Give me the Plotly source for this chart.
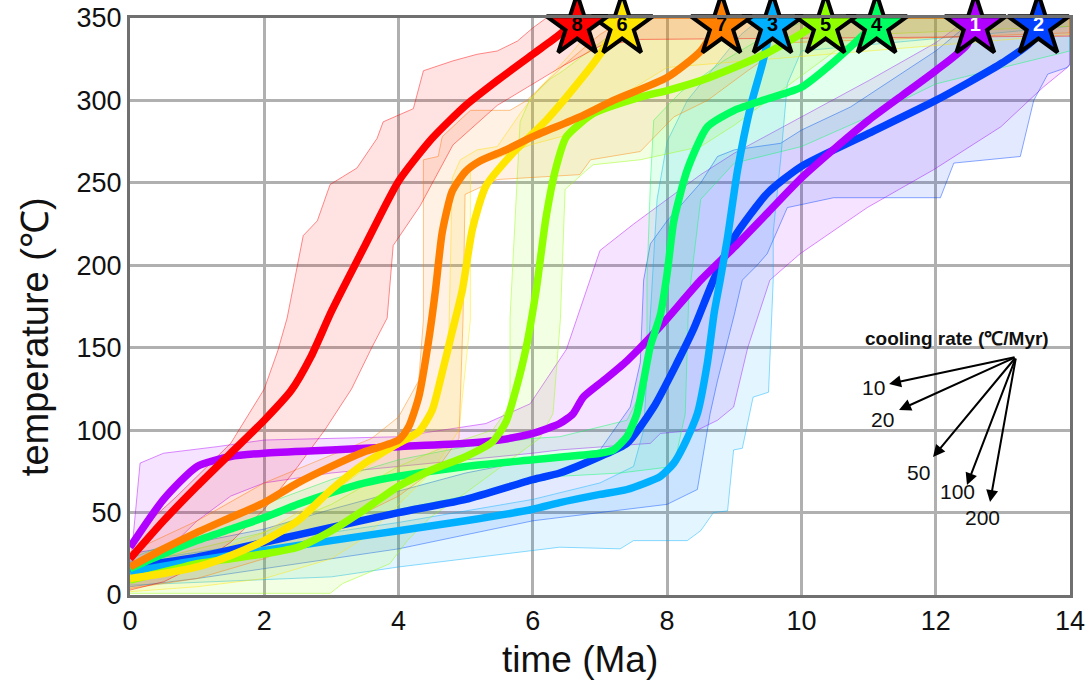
import plotly.graph_objects as go

# ---------------- data ----------------
series_ids = ["1", "2", "3", "4", "5", "6", "7", "8"]
colors = {"1": (176, 0, 255), "2": (0, 64, 255), "3": (0, 176, 255), "4": (0, 255, 96),
          "5": (144, 255, 0), "6": (255, 230, 0), "7": (255, 128, 0), "8": (255, 0, 0)}

# main (median) paths
x1 = [0, 0.5, 1, 1.5, 2, 3, 4, 5, 5.5, 6, 6.4, 6.6, 6.75, 7.05, 7.4, 7.9, 8.5, 9, 9.5, 10, 10.5, 11, 11.5, 12, 12.47, 12.59]
y1 = [29, 58, 78, 84, 86, 88, 90, 92, 94, 98, 104, 110, 120, 130, 142, 163, 191, 211, 232, 253, 271, 288, 303, 318, 334, 350]
x2 = [0, 1, 2, 3, 4, 5, 6, 6.4, 7, 7.4, 7.8, 8.15, 8.39, 8.69, 9, 9.5, 10, 11, 12, 13, 13.46, 13.53]
y2 = [17, 23, 32, 41, 50, 58, 70, 74, 84, 92, 114, 141, 161, 191, 217, 244, 260, 280, 300, 323, 337, 350]
x3 = [0, 1, 2, 3, 4, 5, 6, 6.4, 7, 7.4, 7.9, 8.1, 8.24, 8.45, 8.6, 8.7, 8.79, 8.9, 9.05, 9.24, 9.43, 9.57]
y3 = [14, 21, 27, 33, 39, 45, 52, 56, 61, 64, 72, 80, 90, 110, 141, 171, 191, 217, 258, 296, 324, 350]
x4 = [0, 0.5, 1, 1.5, 2, 2.5, 3, 3.5, 4, 5, 6, 6.5, 7, 7.2, 7.4, 7.55, 7.65, 7.75, 7.9, 8.0, 8.1, 8.3, 8.6, 9, 9.5, 10, 10.5, 11, 11.12]
y4 = [16, 25, 33, 40, 47, 55, 62, 68, 72, 78, 82, 84, 86, 88, 96, 110, 130, 151, 170, 195, 227, 258, 284, 294, 301, 308, 324, 343, 350]
x5 = [0, 0.5, 1, 1.5, 2, 2.5, 3, 3.5, 4, 4.5, 5, 5.4, 5.6, 5.75, 5.9, 6.05, 6.2, 6.35, 6.5, 6.9, 7.6, 8, 8.5, 9, 9.5, 10.1, 10.36]
y5 = [9, 14, 19, 22, 25, 29, 39, 52, 66, 76, 84, 93, 105, 125, 150, 185, 230, 260, 278, 292, 302, 306, 312, 320, 329, 343, 350]
x6 = [0, 0.5, 1, 1.5, 2, 2.5, 3, 3.5, 4, 4.3, 4.5, 4.65, 4.8, 4.95, 5.1, 5.3, 5.7, 6.2, 6.7, 7.0, 7.33]
y6 = [10, 13, 17, 24, 33, 45, 64, 80, 92, 99, 112, 135, 160, 185, 222, 248, 268, 288, 312, 328, 350]
x7 = [0, 0.5, 1, 1.5, 2, 2.5, 3, 3.5, 4, 4.15, 4.3, 4.45, 4.55, 4.65, 4.8, 5.0, 5.2, 5.6, 6.0, 6.7, 7.2, 8.0, 8.5, 8.81]
y7 = [17, 28, 38, 47, 56, 68, 78, 87, 94, 102, 120, 155, 185, 220, 245, 257, 263, 270, 278, 290, 300, 314, 330, 350]
x8 = [0, 0.5, 1, 1.5, 2, 2.4, 2.7, 3.0, 3.5, 4.0, 4.5, 5.0, 5.5, 6.0, 6.4, 6.66]
y8 = [22, 45, 66, 86, 106, 124, 145, 172, 212, 251, 277, 297, 313, 328, 340, 350]

# uncertainty envelopes: upper (early/hot) edge and lower (late/cool) edge
b1_ux = [0, 0.15, 0.5, 1.3, 2, 4, 5.3, 5.96, 6.5, 6.75, 7.0, 7.5, 8, 8.5, 9, 10, 11, 12, 12.5]
b1_uy = [15, 80, 86, 90, 94, 96, 104, 116, 149, 179, 209, 225, 240, 255, 268, 290, 312, 335, 350]
b1_lx = [0, 0.5, 1, 1.5, 2, 3, 4, 5, 6, 6.4, 7.75, 7.9, 8.45, 8.75, 8.99, 9.2, 9.53, 9.98, 10.98, 11.97, 12.97, 13.6, 13.96, 14]
b1_ly = [8, 25, 45, 60, 68, 74, 78, 82, 86, 88, 92, 98, 100, 106, 114, 150, 191, 207, 235, 258, 284, 308, 320, 322]

b2_ux = [0, 1, 2, 3, 4, 5, 6, 7, 7.45, 7.6, 7.65, 7.75, 8.0, 8.5, 8.75, 9.0, 9.69, 10.0, 10.73, 11.22, 12.0, 12.6]
b2_uy = [25, 32, 40, 52, 63, 74, 82, 88, 114, 141, 191, 213, 227, 250, 266, 270, 274, 282, 296, 309, 330, 350]
b2_lx = [0, 1, 2, 4, 6, 7, 8, 8.45, 8.64, 8.75, 9.0, 9.12, 9.34, 9.49, 9.79, 10.48, 12.07, 12.27, 13.26, 13.46, 13.67, 13.96, 14]
b2_ly = [5, 10, 16, 28, 45, 50, 55, 64, 110, 130, 170, 191, 200, 207, 235, 241, 241, 262, 266, 300, 316, 320, 322]

b3_ux = [0, 2, 4, 6, 7, 7.5, 7.65, 7.75, 7.85, 8.0, 8.3, 8.7, 9.1, 9.4]
b3_uy = [20, 32, 44, 58, 68, 78, 100, 170, 240, 275, 300, 320, 340, 350]
b3_lx = [0, 3, 4, 6, 6.4, 7.3, 7.5, 8.3, 8.5, 8.69, 8.9, 8.99, 9.12, 9.28, 9.51, 9.58, 9.58, 9.69, 9.79, 10.0, 14]
b3_ly = [6, 11, 17, 27, 29, 28, 33, 33, 39, 50, 51, 88, 89, 120, 123, 191, 220, 264, 310, 330, 345]

b4_ux = [0, 1, 2, 3, 4, 5, 6, 6.4, 7.4, 7.7, 7.7, 7.75, 7.8, 8.2, 8.84, 9.5, 10.2]
b4_uy = [22, 38, 55, 70, 82, 90, 95, 96, 106, 130, 191, 250, 288, 305, 324, 340, 350]
b4_lx = [0, 1, 2, 3, 4, 5, 6, 6.4, 7.3, 8.1, 8.27, 8.32, 8.5, 9.0, 10, 11, 12, 14]
b4_ly = [8, 18, 30, 42, 52, 60, 68, 72, 74, 78, 110, 179, 240, 262, 272, 290, 310, 330]

b5_ux = [0, 1, 2, 3, 4, 4.8, 5.4, 5.66, 5.66, 5.81, 5.96, 6.26, 6.45, 7.0, 7.5]
b5_uy = [18, 28, 38, 55, 78, 92, 100, 115, 168, 287, 301, 313, 318, 335, 350]
b5_lx = [0, 2.98, 3.17, 3.87, 4.13, 4.47, 5.0, 5.6, 6.1, 6.3, 6.41, 6.48, 6.81, 6.9, 7.6, 8.5, 9.0, 9.5, 10, 10.5, 11, 14]
b5_ly = [1, 1, 7, 19, 33, 47, 62, 80, 95, 110, 167, 246, 258, 261, 264, 272, 285, 300, 315, 330, 340, 345]

b6_ux = [0, 1, 2, 3, 3.8, 4.3, 4.6, 4.75, 4.8, 4.92, 5.17, 5.47, 5.81, 6.11, 6.6, 7.0]
b6_uy = [15, 22, 38, 62, 85, 100, 120, 160, 253, 264, 270, 272, 292, 308, 330, 350]
b6_lx = [0, 1, 2, 3, 3.5, 4.0, 4.5, 4.9, 5.07, 5.07, 5.47, 5.96, 6.6, 7.2, 8, 14]
b6_ly = [2, 5, 10, 22, 35, 55, 75, 100, 167, 261, 265, 273, 280, 300, 320, 340]

b7_ux = [0, 1, 2, 3, 3.6, 4.0, 4.3, 4.37, 4.37, 4.59, 4.65, 5.07, 5.66, 5.91, 6.45, 7.0, 7.4]
b7_uy = [26, 45, 68, 85, 95, 108, 130, 167, 264, 266, 278, 294, 294, 300, 321, 340, 350]
b7_lx = [0, 1, 2, 3, 4, 4.6, 4.9, 4.96, 4.99, 5.47, 6.7, 6.86, 7.6, 8.1, 8.6, 9.2, 9.8, 14]
b7_ly = [4, 10, 22, 40, 60, 78, 95, 167, 243, 252, 255, 264, 269, 290, 300, 318, 335, 341]

b8_ux = [0, 0.3, 0.7, 1.0, 1.5, 2.0, 2.2, 2.34, 2.58, 2.79, 2.98, 3.38, 3.68, 3.77, 4.22, 4.37, 4.81, 5.17, 5.47, 5.77, 6.0, 6.2]
b8_uy = [32, 45, 60, 72, 92, 125, 148, 168, 218, 227, 249, 259, 277, 287, 295, 318, 324, 328, 330, 336, 344, 350]
b8_lx = [0, 0.5, 1, 1.5, 2, 2.5, 2.9, 3.3, 3.6, 3.83, 3.92, 4.32, 4.81, 5.47, 5.96, 6.45, 7.0, 7.6, 14]
b8_ly = [3, 8, 18, 32, 52, 78, 100, 125, 150, 168, 212, 236, 273, 297, 309, 321, 333, 337, 339]

# star labels (time at which each path reaches the top of the plot)
star_x = [12.59, 13.53, 9.57, 11.12, 10.36, 7.33, 8.81, 6.66]
star_y = [345, 345, 345, 345, 345, 345, 345, 345]
star_text = ["1", "2", "3", "4", "5", "6", "7", "8"]
star_textcolor = ["white", "white", "black", "black", "black", "black", "black", "black"]

x_ticks = [0, 2, 4, 6, 8, 10, 12, 14]
y_ticks = [0, 50, 100, 150, 200, 250, 300, 350]

rate_labels = ["10", "20", "50", "100", "200"]
rate_head_x = [11.305, 11.454, 11.96, 12.466, 12.809]
rate_head_y = [128.0, 112.2, 83.7, 66.7, 56.4]
rate_ax = [127, 117, 83, 49, 26]
rate_ay = [-27, -53, -100, -128, -145]
rate_lab_x = [11.07, 11.20, 11.74, 12.33, 12.70]
rate_lab_y = [125.6, 106.2, 74.6, 62.5, 47.3]

paths = {"1": (x1, y1), "2": (x2, y2), "3": (x3, y3), "4": (x4, y4),
         "5": (x5, y5), "6": (x6, y6), "7": (x7, y7), "8": (x8, y8)}
bands = {"1": (b1_ux, b1_uy, b1_lx, b1_ly), "2": (b2_ux, b2_uy, b2_lx, b2_ly),
         "3": (b3_ux, b3_uy, b3_lx, b3_ly), "4": (b4_ux, b4_uy, b4_lx, b4_ly),
         "5": (b5_ux, b5_uy, b5_lx, b5_ly), "6": (b6_ux, b6_uy, b6_lx, b6_ly),
         "7": (b7_ux, b7_uy, b7_lx, b7_ly), "8": (b8_ux, b8_uy, b8_lx, b8_ly)}


def rgba(c, a):
    return f"rgba({c[0]},{c[1]},{c[2]},{a})"


fig = go.Figure()

# envelopes
for sid in series_ids:
    ux, uy, lx, ly = bands[sid]
    px = list(ux) + [14] + list(reversed(lx))
    py = list(uy) + [350] + list(reversed(ly))
    fig.add_trace(go.Scatter(x=px, y=py, mode="lines", fill="toself",
                             fillcolor=rgba(colors[sid], 0.11),
                             line=dict(color=rgba(colors[sid], 0.45), width=1),
                             hoverinfo="skip", showlegend=False))

# main paths (drawing order)
for sid in ["2", "1", "3", "4", "5", "6", "7", "8"]:
    xs, ys = paths[sid]
    fig.add_trace(go.Scatter(x=xs, y=ys, mode="lines",
                             line=dict(color=rgba(colors[sid], 1), width=7.5, shape="spline", smoothing=0.6),
                             showlegend=False))

# stars
fig.add_trace(go.Scatter(x=star_x, y=star_y, mode="markers+text",
                         text=[f"<b>{t}</b>" for t in star_text],
                         textposition="middle center",
                         textfont=dict(family="Liberation Sans, Arial", size=20, color=star_textcolor),
                         marker=dict(symbol="star", size=46,
                                     color=[rgba(colors[s], 1) for s in star_text],
                                     line=dict(color="black", width=4)),
                         cliponaxis=False, showlegend=False))

annotations = []
annotations.append(dict(text="time (Ma)", xref="paper", yref="paper", x=0.479, y=-0.112,
                        showarrow=False, xanchor="center", yanchor="middle",
                        font=dict(family="Liberation Sans, Arial", size=37, color="#111")))
annotations.append(dict(text="temperature (℃)", xref="paper", yref="paper", x=-0.101, y=0.447,
                        showarrow=False, textangle=-90, xanchor="center", yanchor="middle",
                        font=dict(family="Liberation Sans, Arial", size=38, color="#111")))
annotations.append(dict(text="<b>cooling rate (℃/Myr)</b>", xref="paper", yref="paper", x=0.88, y=0.445,
                        showarrow=False, xanchor="center", yanchor="middle",
                        font=dict(family="Liberation Sans, Arial", size=19, color="#111")))
for i in range(len(rate_labels)):
    annotations.append(dict(x=rate_head_x[i], y=rate_head_y[i], xref="x", yref="y", text="",
                            showarrow=True, ax=rate_ax[i], ay=rate_ay[i], arrowhead=2,
                            arrowsize=1.2, arrowwidth=2, arrowcolor="black"))
    annotations.append(dict(x=rate_lab_x[i], y=rate_lab_y[i], xref="x", yref="y", text=rate_labels[i],
                            showarrow=False, xanchor="center", yanchor="middle",
                            font=dict(family="Liberation Sans, Arial", size=21, color="#111")))

fig.update_layout(
    width=1091, height=687,
    margin=dict(l=130, r=21, t=18, b=92, autoexpand=False),
    paper_bgcolor="white", plot_bgcolor="white",
    annotations=annotations,
    xaxis=dict(range=[0, 14], tickvals=x_ticks, ticktext=[str(v) for v in x_ticks],
               showgrid=True, gridcolor="#b0b0b0", gridwidth=2.5,
               showline=True, linecolor="#707070", linewidth=3, mirror=True,
               ticks="", zeroline=False, automargin=False, ticklabeloverflow="allow",
               tickfont=dict(family="Liberation Sans, Arial", size=27, color="#111")),
    yaxis=dict(range=[0, 350], tickvals=y_ticks, ticktext=[str(v) for v in y_ticks],
               showgrid=True, gridcolor="#b0b0b0", gridwidth=2.5,
               showline=True, linecolor="#707070", linewidth=3, mirror=True,
               ticks="", zeroline=False, automargin=False, ticklabeloverflow="allow",
               tickfont=dict(family="Liberation Sans, Arial", size=27, color="#111")),
)

# remove the default 8px page margin so the figure fills the window exactly
fig.write_html("out.html", config={"displayModeBar": False},
               post_script="document.body.style.margin='0px';document.body.style.overflow='hidden';")
